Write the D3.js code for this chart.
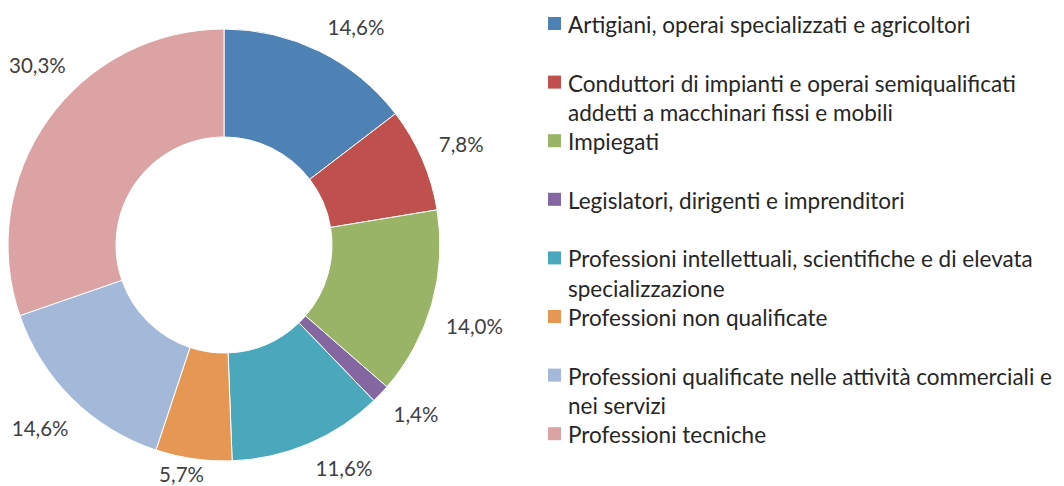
<!DOCTYPE html>
<html>
<head>
<meta charset="utf-8">
<script src="https://cdnjs.cloudflare.com/ajax/libs/d3/7.8.5/d3.min.js"></script>
<style>
  body { margin: 0; background: #fff; }
  svg { display: block; font-family: Lato, "Open Sans", sans-serif; }
</style>
</head>
<body>
<div class="chart"></div>
<script>
// donut of occupational groups, labels with italian decimal comma
var categories = [
  'Artigiani, operai specializzati e agricoltori',
  'Conduttori di impianti e operai semiqualificati addetti a macchinari fissi e mobili',
  'Impiegati',
  'Legislatori, dirigenti e imprenditori',
  'Professioni intellettuali, scientifiche e di elevata specializzazione',
  'Professioni non qualificate',
  'Professioni qualificate nelle attività commerciali e nei servizi',
  'Professioni tecniche'
];
var values = [14.6, 7.8, 14.0, 1.4, 11.6, 5.7, 14.6, 30.3];
var colors = ['#4f82b4', '#c0504d', '#99b466', '#8467a0', '#4aa7bc', '#e69753', '#a4b8d9', '#dba3a3'];

(function() {
  var opts = {
    width: 1064,
    height: 486,
    cx: 224,
    cy: 245,
    outer: 216,
    inner: 108,
    labelGap: 234,
    legendX: 548,
    legendTop: 33,
    legendStep: 58.6,
    lineStep: 29.5,
    legendMax: 498
  };

  var svg = d3.select('.chart')
    .append('svg')
    .attr('width', opts.width)
    .attr('height', opts.height);

  var data = values.map(function(v, i) { return {name: categories[i], value: v, color: colors[i]}; });

  var pie = d3.pie()
    .sort(null)
    .value(function(d) { return d.value; });

  var arc = d3.arc()
    .innerRadius(opts.inner)
    .outerRadius(opts.outer);

  var arcs = pie(data);

  var g = svg.append('g')
    .attr('transform', 'translate(' + opts.cx + ',' + opts.cy + ')');

  g.selectAll('path.slice')
    .data(arcs)
    .enter().append('path')
      .attr('class', 'slice')
      .attr('d', arc)
      .style('fill', function(d) { return d.data.color; })
      .style('stroke', '#fff')
      .style('stroke-width', 1);

  // labels: box corner touches a point just outside the ring, kept inside the svg
  var fmt = function(v) { return d3.format('.1f')(v).replace('.', ',') + '%'; };
  var labelNudge = [0, 0, 2.5, 0, 0, 0, -3, 12]; // degrees, labels excel shifted
  var clamp = function(v) { return Math.max(-1, Math.min(1, v)); };

  g.selectAll('text.lbl')
    .data(arcs)
    .enter().append('text')
      .attr('class', 'lbl')
      .attr('text-anchor', 'middle')
      .attr('dominant-baseline', 'central')
      .style('font-size', '20.5px')
      .style('fill', '#404040')
      .text(function(d) { return fmt(d.data.value); })
      .each(function(d, i) {
        var box = this.getBBox();
        var w = box.width, h = 16;
        var a = (d.startAngle + d.endAngle) / 2 + labelNudge[i] * Math.PI / 180;
        var s = Math.sin(a), c = Math.cos(a);
        var x = opts.labelGap * s + w / 2 * clamp(s * 3);
        var y = -opts.labelGap * c + h / 2 * clamp(-c * 3);
        x = Math.max(-opts.cx + w / 2 + 2, x);
        y = Math.min(opts.height - opts.cy - h / 2 - 4, Math.max(-opts.cy + h / 2 + 4, y));
        d3.select(this).attr('x', x).attr('y', y);
      });

  // legend
  var legend = svg.append('g');

  var items = legend.selectAll('g.item')
    .data(data)
    .enter().append('g')
      .attr('class', 'item')
      .attr('transform', function(d, i) {
        return 'translate(' + opts.legendX + ',' + (opts.legendTop + i * opts.legendStep) + ')';
      });

  items.append('rect')
    .attr('x', 0)
    .attr('y', -16)
    .attr('width', 13)
    .attr('height', 13)
    .style('fill', function(d) { return d.color; });

  items.each(function(d) {
    var t = d3.select(this).append('text')
      .attr('x', 20)
      .attr('y', 0)
      .style('font-size', '22.5px')
      .style('fill', '#262626');
    var words = d.name.split(' ');
    var line = [];
    var ln = 0;
    var tspan = t.append('tspan').attr('x', 20).attr('y', 0);
    words.forEach(function(w) {
      line.push(w);
      tspan.text(line.join(' '));
      if (tspan.node().getComputedTextLength() > opts.legendMax && line.length > 1) {
        line.pop();
        tspan.text(line.join(' '));
        line = [w];
        ln++;
        tspan = t.append('tspan').attr('x', 20).attr('y', ln * opts.lineStep).text(w);
      }
    });
  });

}).call(this);
</script>
</body>
</html>
